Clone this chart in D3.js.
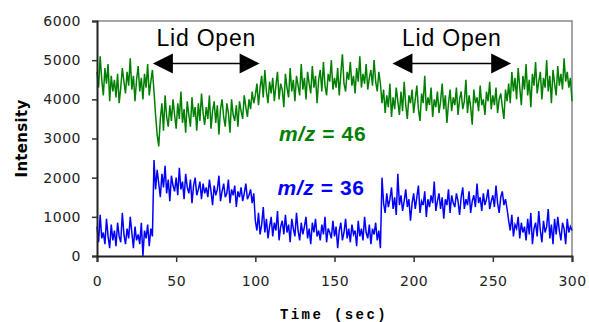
<!DOCTYPE html>
<html>
<head>
<meta charset="utf-8">
<script src="https://cdn.jsdelivr.net/npm/d3@7"></script>
<style>
  body { margin: 0; background: #fff; }
  svg { display: block; }
  .tick text { font-family: "DejaVu Sans", sans-serif; font-size: 14px; fill: #222; letter-spacing: 0.5px; }
</style>
</head>
<body>
<div id="chart"></div>
<script>
// time axis, 1 s samples
const timeSec = d3.range(0, 301);

// m/z = 46 (green)
const mz46 = [
  4700, 4300, 5100, 4500, 4100, 4800, 4400, 4900, 3950, 4600,
  4200, 4500, 4050, 4650, 3900, 4300, 4800, 4450, 4150, 4700,
  4350, 5050, 4250, 4600, 3950, 4500, 4850, 4200, 4550, 4000,
  4650, 4300, 4900, 4100, 4450, 4750,
  4200, 3600, 3100, 2800,
  3500, 3900, 3200, 4100, 3550, 3300, 3850, 3450, 4000, 3600,
  3250, 3900, 3500, 4200, 3400, 3750, 3150, 3950, 3600, 3300,
  4050, 3550, 3800, 3200, 3900, 3450, 4150, 3650, 3350, 3800,
  3500, 4100, 3250, 3700, 3950, 3400, 3850, 3100, 3750, 4000,
  3550, 3300, 3900, 3650, 3150, 4000, 3600, 3450, 3850, 3300,
  3950, 3700, 3500, 4100, 3800, 3550, 4000, 3750, 4200, 3900,
  4100, 4400, 3850, 4300, 4600, 4050, 4750, 4200, 3900, 4450,
  4150, 4550, 3950, 4350, 4700, 4000, 4400, 4250, 3800, 4650,
  4300, 4050, 4800, 4200, 4500, 3950, 4600, 4350, 4100, 4900,
  4250, 4550, 4000, 4700, 4400, 4150, 4850, 4300, 4600, 3900,
  4500, 4750, 4200, 4950, 4350, 4100, 4650, 4450, 5000, 4250,
  4550, 4300, 4800, 4100, 4650, 5150, 4400, 4200, 4700, 4500,
  4950, 4350, 4600, 4150, 4800, 4450, 5100, 4300, 4650, 4400,
  4900, 4250, 4550, 4750, 4350, 5000, 4450, 4200, 4700, 4400,
  3900, 4250, 3650, 4100, 3800, 4400, 3550, 4050, 3750, 4300,
  3950, 3600, 4200, 3700, 4450, 3850, 3500, 4100, 3900, 4250,
  3650, 4000, 4350, 3750, 3450, 4150, 3900, 4600, 3700, 4050,
  3850, 4300, 3550, 4000, 3800, 4200, 3650, 3950, 4400, 3750,
  4100, 3400, 3900, 4250, 3700, 4050, 3850, 4300, 3600, 4000,
  4200, 3750, 3950, 4500, 3650, 4100, 3800, 3350, 4250, 3900,
  4050, 3700, 4350, 3850, 4000, 3600, 4200, 3950, 4450, 3750,
  4100, 3850, 4300, 3650, 4000, 4150, 3800, 3500, 4250, 3950,
  4400, 3900, 4700, 4200, 4550, 4000, 4800, 4300, 3850, 4600,
  4250, 4900, 4100, 4500, 3800, 4650, 4350, 4950, 4150, 4450,
  4700, 4000, 4550, 4300, 5000, 4200, 4600, 3900, 4750, 4400,
  4100, 4850, 4350, 4650, 4250, 5050, 4450, 4700, 4300, 4550,
  3950
];

// m/z = 36 (blue)
const mz36 = [
  750, 350, 1050, 450, 600, 300, 950, 500, 200, 800,
  400, 650, 250, 850, 500, 350, 1100, 550, 300, 700,
  450, 1000, 600, 200, 750, 400, 550, 300, 850, 0,
  650, 450, 800, 250, 700, 500,
  2450, 1700, 2200, 1850,
  1500, 2100, 1750, 2300, 1600, 1950, 1400, 2050, 1800, 1650,
  2000, 1550, 2250, 1700, 1900, 1450, 2100, 1750, 1600, 1950,
  1350, 1800, 2000, 1550, 1700, 1900, 1450, 1850, 1600, 1750,
  1500, 1950, 1650, 1300, 1800, 1550, 1700, 2050, 1400, 1650,
  1850, 1500, 1600, 1950, 1350, 1700, 1550, 1800, 1250, 1650,
  1500, 1750, 1400, 1600, 1850, 1450, 1550, 1700, 1350, 1600,
  900, 650, 1100, 550, 800, 1250, 600, 950, 450, 750,
  1000, 500, 850, 650, 1150, 400, 750, 900, 550, 1050,
  600, 800, 350, 950, 700, 500, 1100, 650, 400, 850,
  550, 750, 1000, 450, 700, 300, 850, 600, 950, 500,
  650, 400, 800, 550, 1000, 350, 700, 600, 450, 900,
  500, 750, 200, 650, 850, 400, 600, 950, 450, 700,
  350, 800, 550, 650, 250, 900, 500, 700, 400, 1000,
  600, 450, 800, 300, 700, 550, 850, 400, 650, 200,
  2000, 1350, 1100, 1600, 1250, 1450, 1750, 1200, 1500, 1050,
  2100, 1300, 1550, 1150, 1400, 1700, 1250, 1450, 900, 1350,
  1600, 1200, 1500, 1800, 1100, 1400, 1300, 1650, 1000, 1450,
  1250, 1550, 1350, 1900, 1150, 1400, 1600, 1200, 1500, 950,
  1450, 1300, 1700, 1100, 1550, 1350, 1250, 1600, 1400, 1050,
  1500, 1750, 1200, 1450, 1300, 1650, 1100, 1400, 1550, 1250,
  1850, 1350, 1500, 1150, 1600, 1300, 1450, 1700, 1200, 1400,
  1550, 1250, 1800, 1350, 1100, 1500, 1650, 1300, 1450, 1200,
  900, 650, 1050, 500, 800, 700, 1000, 450, 850, 600,
  750, 400, 950, 550, 1100, 300, 700, 850, 500, 1150,
  650, 350, 900, 600, 750, 1200, 450, 800, 300, 950,
  550, 1000, 650, 400, 850, 700, 300, 950, 600, 750,
  650
];

const xTicks = [0, 50, 100, 150, 200, 250, 300];
const yTicks = [0, 1000, 2000, 3000, 4000, 5000, 6000];

// lid open periods (sec) for the arrow annotations
const lidStart = [35.3, 186.6];
const lidEnd = [102.7, 261.6];

const seriesLabels = [
  { name: "46", t: 115, v: 2930, color: "#008000" },
  { name: "36", t: 114, v: 1560, color: "#0000ff" }
];

const W = 589, H = 322;
const margin = { top: 21, right: 17, bottom: 66, left: 97 };

const svg = d3.select("#chart").append("svg")
  .attr("width", W)
  .attr("height", H);

const x = d3.scaleLinear().domain([0, 300]).range([margin.left, W - margin.right]);
const y = d3.scaleLinear().domain([0, 6000]).range([H - margin.bottom, margin.top]);

// gray frame on top and right
svg.append("path")
  .attr("d", `M${x(0)},${y(6000)}H${x(300)}V${y(0)}`)
  .attr("fill", "none")
  .attr("stroke", "#888")
  .attr("stroke-width", 1.5);

const line = d3.line()
  .x((d, i) => x(timeSec[i]))
  .y(d => y(d));

svg.append("path")
  .datum(mz46)
  .attr("d", line)
  .attr("fill", "none")
  .attr("stroke", "#008000")
  .attr("stroke-width", 1.5);

svg.append("path")
  .datum(mz36)
  .attr("d", line)
  .attr("fill", "none")
  .attr("stroke", "#0000ff")
  .attr("stroke-width", 1.5);

// axes
const xAxis = svg.append("g")
  .attr("transform", `translate(0,${y(0)})`)
  .call(d3.axisBottom(x).tickValues(xTicks).tickSize(6).tickPadding(14));
const yAxis = svg.append("g")
  .attr("transform", `translate(${x(0)},0)`)
  .call(d3.axisLeft(y).tickValues(yTicks).tickFormat(d3.format("d")).tickSize(5).tickPadding(11));

[xAxis, yAxis].forEach(a => {
  a.select(".domain").attr("stroke", "#222").attr("stroke-width", 2);
  a.selectAll(".tick line").attr("stroke", "#333").attr("stroke-width", 1.5);
});

// axis titles
svg.append("text")
  .attr("transform", `translate(27,${(y(0) + y(6000)) / 2}) rotate(-90)`)
  .attr("text-anchor", "middle")
  .style("font-family", "'DejaVu Sans', sans-serif")
  .style("font-weight", "bold")
  .style("font-size", "15px")
  .style("letter-spacing", "0.3px")
  .text("Intensity");

svg.append("text")
  .attr("x", 334)
  .attr("y", 319)
  .attr("text-anchor", "middle")
  .style("font-family", "'Liberation Mono', monospace")
  .style("font-weight", "bold")
  .style("font-size", "14px")
  .style("letter-spacing", "2.4px")
  .text("Time (sec)");

// lid open annotations
const arrowY = 63.5;
lidStart.forEach((s, i) => {
  const x0 = x(s), x1 = x(lidEnd[i]);
  const g = svg.append("g");
  g.append("line")
    .attr("x1", x0 + 18).attr("x2", x1 - 18)
    .attr("y1", arrowY).attr("y2", arrowY)
    .attr("stroke", "#000").attr("stroke-width", 1.5);
  g.append("path")
    .attr("d", `M${x0},${arrowY}L${x0 + 20},${arrowY - 10}L${x0 + 20},${arrowY + 10}Z`)
    .attr("fill", "#000");
  g.append("path")
    .attr("d", `M${x1},${arrowY}L${x1 - 20},${arrowY - 10}L${x1 - 20},${arrowY + 10}Z`)
    .attr("fill", "#000");
  g.append("text")
    .attr("x", (x0 + x1) / 2)
    .attr("y", 46)
    .attr("text-anchor", "middle")
    .style("font-family", "'Liberation Sans', Arial, sans-serif")
    .style("font-size", "23px")
    .style("letter-spacing", "0.8px")
    .text("Lid Open");
});

// series labels
seriesLabels.forEach(d => {
  const t = svg.append("text")
    .attr("x", x(d.t))
    .attr("y", y(d.v))
    .attr("fill", d.color)
    .style("font-family", "'Liberation Sans', Arial, sans-serif")
    .style("font-weight", "bold")
    .style("font-size", "21px")
    .style("letter-spacing", "0.6px");
  t.append("tspan").style("font-style", "italic").text("m/z");
  t.append("tspan").text(" = " + d.name);
});
</script>
</body>
</html>
